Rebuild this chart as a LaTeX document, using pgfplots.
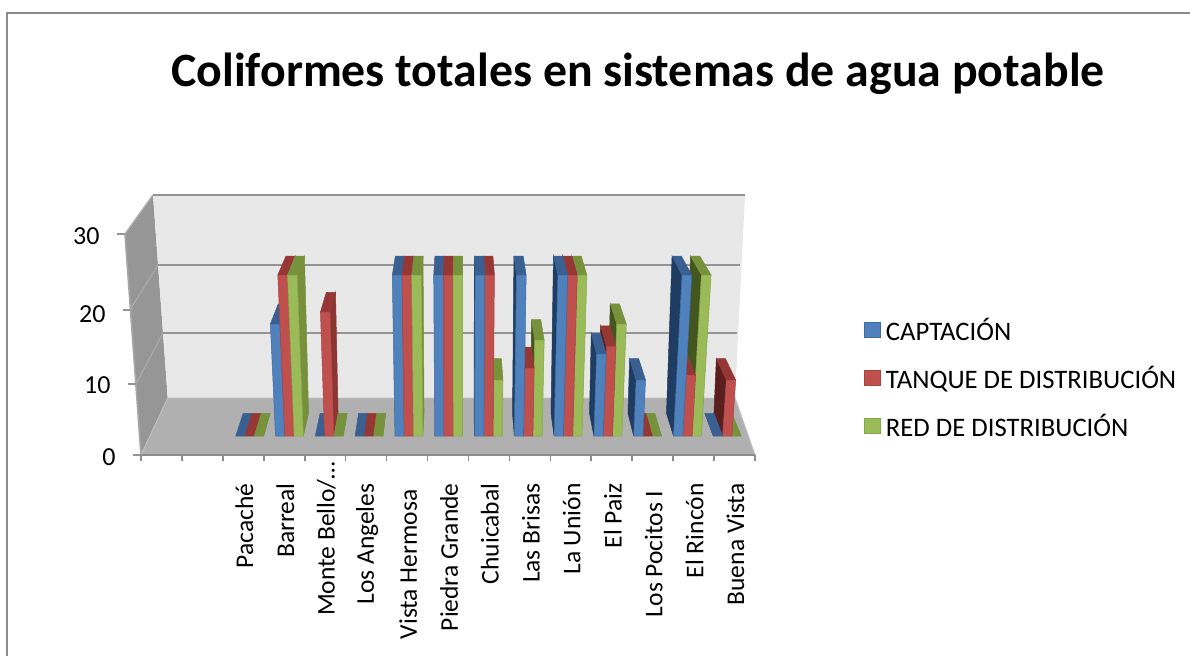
\documentclass[border=0pt]{standalone}
\usepackage{pgfplots}
\usepackage{pgfplotstable}
\usepackage{fontspec}
\setmainfont{Carlito}
\pgfplotsset{compat=1.18}
\definecolor{blueF}{HTML}{4F81BD}\definecolor{blueE}{HTML}{3F6C9F}\definecolor{blueT}{HTML}{3A6091}\definecolor{blueR}{HTML}{3A6091}\definecolor{blueL}{HTML}{1F3D62}
\definecolor{redF}{HTML}{C0504D}\definecolor{redE}{HTML}{A84441}\definecolor{redT}{HTML}{953735}\definecolor{redR}{HTML}{8B3633}\definecolor{redL}{HTML}{5A1F1D}
\definecolor{greenF}{HTML}{9BBB59}\definecolor{greenE}{HTML}{86A64A}\definecolor{greenT}{HTML}{76923C}\definecolor{greenR}{HTML}{76903B}\definecolor{greenL}{HTML}{44561F}
\pgfplotstableread{
idx captacion tanque red
0  0  0  0
1  16 23 23
2  0  17.7 0
3  0  0  0
4  23 23 23
5  23 23 23
6  23 23 8
7  23 9.7 13.7
8  23 23 23
9  11.7 12.8 16
10 8  0  0
11 23 8.7 23
12 0  8  0
}\coliformes
\newcommand{\poly}[5]{% colour fill, draw, 3 coordinate strings
  \edef\tmp{\noexpand\addplot[fill=#1,draw=#2,line width=0.5pt,forget plot] coordinates {#3 #4 #5};}\tmp}
% project a point of a bar to the picture: front face and back face
\newcommand{\drawbar}[4]{% group, position in group, value, colour prefix
  \pgfmathsetmacro{\xa}{235.7+39.8*#1+9.3*#2}
  \pgfmathsetmacro{\xb}{\xa+9.3}
  \pgfmathsetmacro{\xm}{\xa+4.65}
  \pgfmathsetmacro{\ty}{436-7*#3}
  \pgfmathsetmacro{\lf}{0.04*#3/23}
  \pgfmathsetmacro{\ta}{\xa+(\xa-460)*\lf}
  \pgfmathsetmacro{\tb}{\xb+(\xb-460)*\lf}
  \pgfmathsetmacro{\dk}{0.033+0.012*#3/23}
  \pgfmathsetmacro{\dy}{22.6-3.6*#3/23}
  \pgfmathsetmacro{\bta}{\ta+(460-\ta)*\dk}
  \pgfmathsetmacro{\btb}{\tb+(460-\tb)*\dk}
  \pgfmathsetmacro{\bty}{\ty-\dy}
  \pgfmathsetmacro{\bxa}{\xa+(460-\xa)*0.033}
  \pgfmathsetmacro{\bxb}{\xb+(460-\xb)*0.033}
  \pgfmathsetmacro{\isleft}{\xm<460?1:0}
  \ifdim\isleft pt>0.5pt
    \poly{#4R}{#4R}{(\xb,436) (\tb,\ty)}{(\btb,\bty) (\bxb,413.4)}{(\xb,436)}
  \else
    \poly{#4L}{#4L}{(\xa,436) (\ta,\ty)}{(\bta,\bty) (\bxa,413.4)}{(\xa,436)}
  \fi
  \poly{#4T}{#4T}{(\ta,\ty) (\tb,\ty)}{(\btb,\bty) (\bta,\bty)}{(\ta,\ty)}
  \ifdim #3pt>0pt
    \poly{#4F}{#4E}{(\xa,436) (\xb,436)}{(\tb,\ty) (\ta,\ty)}{(\xa,436)}
  \fi
}
\newcommand{\groupltr}[1]{%
  \pgfplotstablegetelem{#1}{captacion}\of\coliformes\let\va\pgfplotsretval
  \pgfplotstablegetelem{#1}{tanque}\of\coliformes\let\vb\pgfplotsretval
  \pgfplotstablegetelem{#1}{red}\of\coliformes\let\vc\pgfplotsretval
  \drawbar{#1}{0}{\va}{blue}\drawbar{#1}{1}{\vb}{red}\drawbar{#1}{2}{\vc}{green}}
\newcommand{\grouprtl}[1]{%
  \pgfplotstablegetelem{#1}{captacion}\of\coliformes\let\va\pgfplotsretval
  \pgfplotstablegetelem{#1}{tanque}\of\coliformes\let\vb\pgfplotsretval
  \pgfplotstablegetelem{#1}{red}\of\coliformes\let\vc\pgfplotsretval
  \drawbar{#1}{2}{\vc}{green}\drawbar{#1}{1}{\vb}{red}\drawbar{#1}{0}{\va}{blue}}
\begin{document}
\begin{tikzpicture}
\useasboundingbox (0pt,0pt) rectangle (1190pt,656pt);
\begin{axis}[
  at={(0pt,0pt)},anchor=south west,
  scale only axis,width=1190pt,height=656pt,
  xmin=0,xmax=1190,ymin=0,ymax=656,y dir=reverse,
  axis lines=none,
  title={Coliformes totales en sistemas de agua potable},
  title style={at={(638/1190,1-80/656)},anchor=center,font=\fontsize{47.8}{52}\selectfont\bfseries},
  legend style={at={(864/1190,1-316/656)},anchor=north west,draw=none,fill=none,
    font=\fontsize{26.7}{30}\selectfont,row sep=20pt,inner sep=0pt,
    /tikz/every odd column/.append style={column sep=3pt}},
  legend cell align=left,
  legend image code/.code={\draw[#1,line width=1.2pt] (0pt,-7.5pt) rectangle (15.5pt,7.5pt);},
]
% frame of the chart
\addplot[draw=black!45,line width=2pt,forget plot] coordinates {(7,656) (7,13) (1190,13)};
% walls and floor
\addplot[fill=black!41,draw=none,forget plot] coordinates {(125,234) (153,195) (167.7,398) (141,455) (125,234)};
\addplot[fill=black!9,draw=none,forget plot] coordinates {(153,195) (745,195) (735,398) (167.7,398) (153,195)};
\addplot[fill=black!31,draw=none,forget plot] coordinates {(167.7,398) (735,398) (755,455) (141,455) (167.7,398)};
% grid
\addplot[draw=black!33,line width=1.4pt,forget plot] coordinates {(125,234) (153,195)};
\addplot[draw=black!42,line width=1.6pt,forget plot] coordinates {(153,195) (745,195)};
\addplot[draw=black!33,line width=1.2pt,forget plot] coordinates {(130,310) (158,265)};
\addplot[draw=black!42,line width=1.6pt,forget plot] coordinates {(158,265) (740,265)};
\addplot[draw=black!33,line width=1.2pt,forget plot] coordinates {(136,384) (163,333)};
\addplot[draw=black!42,line width=1.6pt,forget plot] coordinates {(163,333) (737,333)};
\addplot[draw=black!25,line width=1pt,forget plot] coordinates {(141,455) (167.7,398) (735,398) (755,455)};
\addplot[draw=black!35,line width=1.6pt,forget plot] coordinates {(125,234) (141,455)};
\addplot[draw=black!42,line width=1.6pt,forget plot] coordinates {(117,234) (125,234)};
\addplot[draw=black!42,line width=1.6pt,forget plot] coordinates {(123,310) (130,310)};
\addplot[draw=black!42,line width=1.6pt,forget plot] coordinates {(128,384) (136,384)};
\addplot[draw=black!42,line width=1.6pt,forget plot] coordinates {(133,455) (141,455)};
% bars
\pgfplotsinvokeforeach{0,...,5}{\groupltr{#1}}
\pgfplotsinvokeforeach{12,11,...,6}{\grouprtl{#1}}
\addlegendimage{fill=blueF,draw=blueE}\addlegendentry{CAPTACIÓN}
\addlegendimage{fill=redF,draw=redE}\addlegendentry{TANQUE DE DISTRIBUCIÓN}
\addlegendimage{fill=greenF,draw=greenE}\addlegendentry{RED DE DISTRIBUCIÓN}
\end{axis}
\begin{axis}[
  at={(141pt,201pt)},anchor=south west,
  scale only axis,width=614pt,height=221pt,
  xmin=0,xmax=15,ymin=0,ymax=30,
  axis x line*=bottom,axis y line*=left,
  x axis line style={draw=black!45,line width=1.6pt,-},
  y axis line style={draw=none,-},
  xtick={0,...,15},
  x tick label as interval,
  xticklabels={{},{},Pacaché,Barreal,{Monte Bello/…\kern-22pt},Los Angeles,{Vista Hermosa\rule{6pt}{0pt}},Piedra Grande,Chuicabal,Las Brisas,La Unión,El Paiz,{Los Pocitos I\rule{7pt}{0pt}},El Rincón,Buena Vista},
  xticklabel style={rotate=90,anchor=east,font=\fontsize{25.5}{28}\selectfont,xshift=-19pt,yshift=-1pt},
  ytick={0,9.8,19.4,30},
  yticklabels={{0\rule{16pt}{0pt}},{10\rule{21pt}{0pt}},{20\rule{26pt}{0pt}},{30\rule{32pt}{0pt}}},
  yticklabel style={font=\fontsize{26}{30}\selectfont,yshift=-2pt},
  tick align=outside,
  major tick length=6pt,
  x tick style={draw=black!45,line width=1.6pt},
  y tick style={draw=none},
  minor tick num=0,
]
\addplot[draw=none,forget plot] coordinates {(0,0) (15,0)};
\end{axis}
\end{tikzpicture}
\end{document}
